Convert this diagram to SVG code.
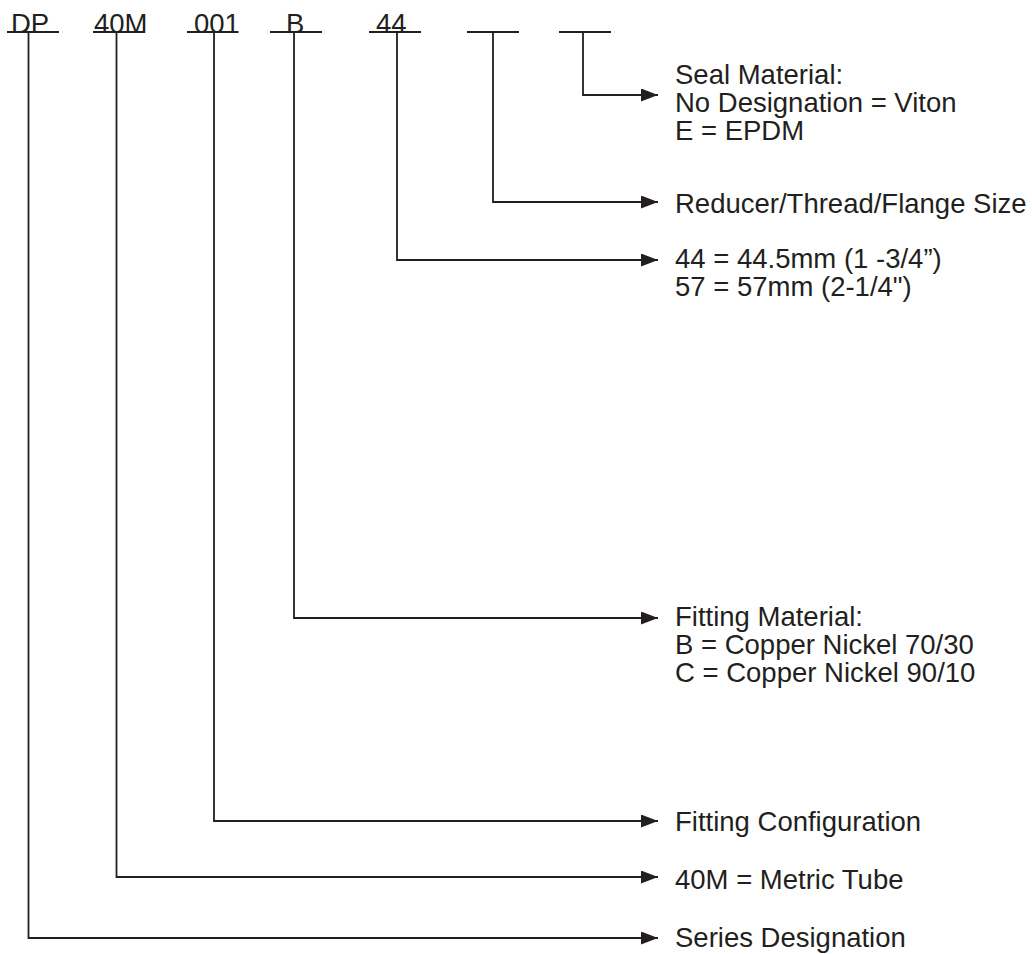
<svg xmlns="http://www.w3.org/2000/svg" width="1032" height="954" viewBox="0 0 1032 954">
<style>
text{font-family:"Liberation Sans",Arial,Helvetica,sans-serif;font-size:27.5px;fill:#231f20}
.ln{fill:none;stroke:#231f20;stroke-width:1.8}
</style>
<defs>
<marker id="ah" markerUnits="userSpaceOnUse" markerWidth="17" markerHeight="13" refX="17" refY="6.5" orient="auto">
<path d="M0,0 L17,6.5 L0,13 z" fill="#231f20"/>
</marker>
</defs>
<rect width="1032" height="954" fill="#fff"/>
<g id="code-dp"><text x="11" y="33">DP</text><line class="ln" x1="7" y1="32" x2="59" y2="32"/></g>
<g id="code-40m"><text x="94" y="33">40M</text><line class="ln" x1="93" y1="32" x2="145" y2="32"/></g>
<g id="code-001"><text x="194" y="33">001</text><line class="ln" x1="187" y1="32" x2="238" y2="32"/></g>
<g id="code-b"><text x="286" y="33">B</text><line class="ln" x1="270" y1="32" x2="322" y2="32"/></g>
<g id="code-44"><text x="376" y="33">44</text><line class="ln" x1="369" y1="32" x2="421" y2="32"/></g>
<g id="code-blank1"><line class="ln" x1="467" y1="32" x2="519" y2="32"/></g>
<g id="code-blank2"><line class="ln" x1="559" y1="32" x2="611" y2="32"/></g>
<g id="connectors">
<polyline class="ln" points="583,32 583,95 658,95" marker-end="url(#ah)"/>
<polyline class="ln" points="493,32 493,202 658,202" marker-end="url(#ah)"/>
<polyline class="ln" points="397,32 397,260 658,260" marker-end="url(#ah)"/>
<polyline class="ln" points="294,32 294,618 658,618" marker-end="url(#ah)"/>
<polyline class="ln" points="214,32 214,821 658,821" marker-end="url(#ah)"/>
<polyline class="ln" points="116.5,32 116.5,877 658,877" marker-end="url(#ah)"/>
<polyline class="ln" points="28.5,32 28.5,938 658,938" marker-end="url(#ah)"/>
</g>
<g id="desc-seal"><text x="675" y="84">Seal Material:</text><text x="675" y="112">No Designation = Viton</text><text x="675" y="140">E = EPDM</text></g>
<g id="desc-reducer"><text x="675" y="213">Reducer/Thread/Flange Size</text></g>
<g id="desc-44"><text x="675" y="268">44 = 44.5mm (1 -3/4”)</text><text x="675" y="296">57 = 57mm (2-1/4")</text></g>
<g id="desc-fitting-material"><text x="675" y="626">Fitting Material:</text><text x="675" y="654">B = Copper Nickel 70/30</text><text x="675" y="682">C = Copper Nickel 90/10</text></g>
<g id="desc-config"><text x="675" y="831">Fitting Configuration</text></g>
<g id="desc-40m"><text x="675" y="889">40M = Metric Tube</text></g>
<g id="desc-series"><text x="675" y="947">Series Designation</text></g>
</svg>
